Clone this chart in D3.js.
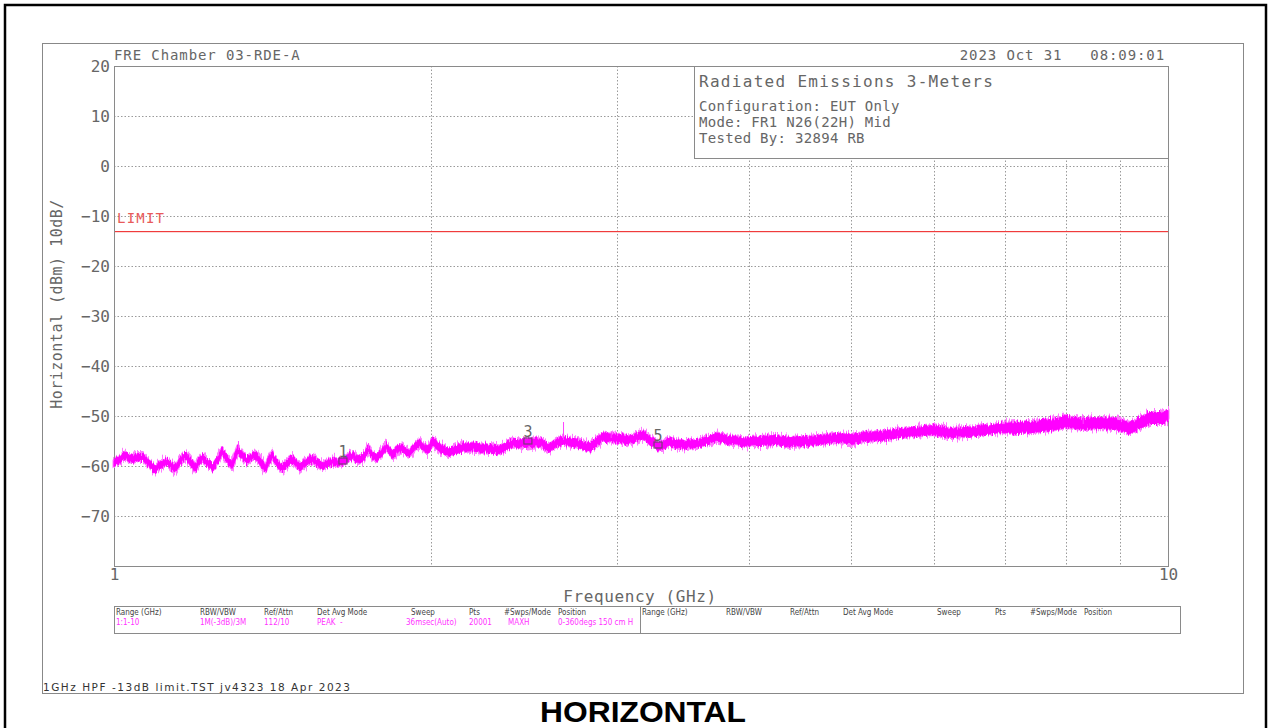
<!DOCTYPE html>
<html>
<head>
<meta charset="utf-8">
<script src="https://cdnjs.cloudflare.com/ajax/libs/d3/7.8.5/d3.min.js"></script>
<style>
  body { margin: 0; background: #fff; }
  svg { display: block; }
  .mono { font-family: "DejaVu Sans Mono", monospace; fill: #666; }
  .small { font-family: "DejaVu Sans Condensed", "DejaVu Sans", sans-serif; font-size: 8px; }
</style>
</head>
<body>
<svg id="chart" width="1272" height="728"></svg>
<script>
// spectrum analyzer plot, radiated emissions 1-10 GHz, horizontal

var yTicks = [20, 10, 0, -10, -20, -30, -40, -50, -60, -70];
var xGrid = [2, 3, 4, 5, 6, 7, 8, 9];
var xTickLabels = [1, 10];
var limitDbm = -13;

// trace (GHz / dBm, centre of the noise band)
var traceFreq = [
  1.000, 1.013, 1.024, 1.033, 1.042, 1.054, 1.065, 1.079, 1.094, 1.108,
  1.123, 1.133, 1.143, 1.155, 1.168, 1.181, 1.194, 1.204, 1.212, 1.228,
  1.241, 1.255, 1.266, 1.280, 1.294, 1.303, 1.311, 1.325, 1.337, 1.349,
  1.361, 1.376, 1.391, 1.403, 1.412, 1.428, 1.443, 1.462, 1.478, 1.491,
  1.501, 1.524, 1.544, 1.561, 1.575, 1.596, 1.613, 1.631, 1.649, 1.667,
  1.685, 1.704, 1.723, 1.742, 1.757, 1.776, 1.796, 1.815, 1.827, 1.839,
  1.855, 1.868, 1.888, 1.909, 1.930, 1.951, 1.972, 1.985, 2.007, 2.029,
  2.052, 2.074, 2.097, 2.120, 2.143, 2.167, 2.190, 2.224, 2.259, 2.288,
  2.324, 2.359, 2.391, 2.427, 2.470, 2.503, 2.536, 2.564, 2.592, 2.632,
  2.667, 2.708, 2.750, 2.786, 2.829, 2.866, 2.910, 2.955, 3.001, 3.041,
  3.088, 3.135, 3.176, 3.225, 3.282, 3.326, 3.370, 3.422, 3.467, 3.520,
  3.598, 3.677, 3.734, 3.842, 3.970, 4.102, 4.239, 4.380, 4.526, 4.677,
  4.833, 4.994, 5.161, 5.333, 5.571, 5.756, 5.987, 6.214, 6.448, 6.707,
  6.930, 7.192, 7.448, 7.730, 8.022, 8.308, 8.622, 8.909, 9.206, 9.410,
  9.615, 9.827, 10.000
];
var traceDbm = [
  -59.4, -58.6, -57.9, -58.4, -58.6, -58.2, -58.2, -59.4, -60.7, -59.7,
  -59.1, -60.0, -60.5, -59.1, -57.9, -59.1, -60.3, -59.1, -58.4, -59.4,
  -60.3, -58.6, -57.2, -58.6, -59.8, -58.2, -56.8, -58.0, -58.9, -58.2,
  -57.7, -59.1, -60.5, -58.9, -57.9, -59.3, -60.5, -59.3, -58.6, -59.6,
  -60.3, -59.1, -58.6, -59.4, -60.0, -59.4, -59.1, -59.3, -59.0, -58.4,
  -57.8, -58.8, -58.4, -56.6, -57.8, -58.4, -57.2, -56.2, -57.2, -57.8,
  -56.8, -56.2, -57.0, -57.4, -56.2, -55.4, -56.4, -56.8, -55.2, -56.0,
  -56.8, -57.2, -57.0, -56.6, -56.2, -56.2, -56.2, -56.4, -56.4, -56.6,
  -56.8, -56.0, -55.4, -55.6, -55.4, -55.2, -55.2, -56.0, -56.4, -55.4,
  -54.8, -55.2, -55.4, -56.0, -56.4, -55.2, -54.2, -54.4, -54.4, -54.6,
  -54.8, -54.2, -53.8, -54.8, -56.0, -55.6, -55.2, -55.6, -55.8, -55.6,
  -55.4, -54.8, -54.2, -54.8, -55.2, -55.0, -54.8, -55.2, -55.0, -54.8,
  -54.4, -54.6, -54.2, -54.0, -53.4, -53.2, -52.8, -53.4, -53.2, -52.8,
  -52.4, -52.4, -52.2, -51.8, -51.2, -51.6, -51.4, -51.6, -52.4, -51.4,
  -50.4, -50.4, -50.0
];
// half thickness of the noise band (dB), up to each frequency
var bandUpTo = [2, 4, 7, 10];
var bandHalf = [0.7, 0.8, 0.9, 1.1];

// isolated spikes above the band
var spikeFreq = [1.311, 1.742, 2.667, 2.960, 8.300];
var spikeTop = [-55.0, -55.4, -51.2, -53.0, -49.8];

var markerNames = ["1", "3", "5"];
var markerFreq = [1.649, 2.470, 3.282];
var markerDbm = [-59.0, -55.0, -55.8];

var infoTitle = "Radiated Emissions 3-Meters";
var infoLines = ["Configuration: EUT Only", "Mode: FR1 N26(22H) Mid", "Tested By: 32894 RB"];

var tableHeaders = ["Range (GHz)", "RBW/VBW", "Ref/Attn", "Det", "Avg Mode", "Sweep", "Pts", "#Swps/Mode", "Position"];
var tableValues = ["1:1-10", "1M(-3dB)/3M", "112/10", "PEAK", "-", "36msec(Auto)", "20001", "MAXH", "0-360degs 150 cm H"];
var headerX = [116, 200, 264, 317, 332, 411, 469, 504, 558];
var valueX = [116, 200, 264, 317, 340, 406, 469, 508, 558];

var svg = d3.select("#chart"),
    plot = {left: 114, top: 66, right: 1168, bottom: 566};

var x = d3.scaleLog().domain([1, 10]).range([plot.left, plot.right]);
var y = d3.scaleLinear().domain([-80, 20]).range([plot.bottom, plot.top]);

// texture filter: jitters the trace band vertically so it reads like a noisy sweep
var defs = svg.append("defs");
[["fuzzOuter", 13], ["fuzzInner", 8]].forEach(function(p) {
  var f = defs.append("filter")
      .attr("id", p[0])
      .attr("x", "-1%").attr("y", "-60%").attr("width", "102%").attr("height", "220%")
      .attr("color-interpolation-filters", "sRGB");
  f.append("feTurbulence")
      .attr("type", "fractalNoise")
      .attr("baseFrequency", "0.8 0.03")
      .attr("numOctaves", 2)
      .attr("seed", p[1])
      .attr("result", "n");
  f.append("feColorMatrix")
      .attr("in", "n")
      .attr("type", "matrix")
      .attr("values", "0 0 0 0 0.5  0 1 0 0 0  0 0 0 0 0  0 0 0 0 1")
      .attr("result", "m");
  f.append("feDisplacementMap")
      .attr("in", "SourceGraphic")
      .attr("in2", "m")
      .attr("scale", p[1])
      .attr("xChannelSelector", "R")
      .attr("yChannelSelector", "G");
});

// outer page border and inner frame
svg.append("rect")
    .attr("x", 5).attr("y", 5).attr("width", 1261).attr("height", 760)
    .attr("fill", "none").attr("stroke", "#000").attr("stroke-width", 2.5);
svg.append("rect")
    .attr("x", 42.5).attr("y", 43.5).attr("width", 1201).attr("height", 650)
    .attr("fill", "none").attr("stroke", "#888").attr("stroke-width", 1);

// grid
var grid = svg.append("g")
    .attr("stroke", "#9a9a9a")
    .attr("stroke-width", 1)
    .attr("stroke-dasharray", "1.5,2");
grid.selectAll("line.h")
  .data(yTicks.slice(1))
  .enter().append("line")
    .attr("class", "h")
    .attr("x1", plot.left).attr("x2", plot.right)
    .attr("y1", function(d) { return Math.round(y(d)) + 0.5; })
    .attr("y2", function(d) { return Math.round(y(d)) + 0.5; });
grid.selectAll("line.v")
  .data(xGrid)
  .enter().append("line")
    .attr("class", "v")
    .attr("y1", plot.top).attr("y2", plot.bottom)
    .attr("x1", function(d) { return Math.round(x(d)) + 0.5; })
    .attr("x2", function(d) { return Math.round(x(d)) + 0.5; });

// plot frame
svg.append("rect")
    .attr("x", plot.left + 0.5).attr("y", plot.top + 0.5)
    .attr("width", plot.right - plot.left).attr("height", plot.bottom - plot.top)
    .attr("fill", "none").attr("stroke", "#8a8a8a");

// axes (labels only)
var yAxis = svg.append("g")
    .attr("transform", "translate(" + plot.left + ",0)")
    .call(d3.axisLeft(y).tickValues(yTicks).tickSize(0).tickPadding(4).tickFormat(d3.format("d")));
yAxis.select(".domain").remove();
yAxis.selectAll("text")
    .attr("class", "mono")
    .attr("font-size", 16)
    .attr("dy", "0.36em");

var xAxis = svg.append("g")
    .attr("transform", "translate(0," + plot.bottom + ")")
    .call(d3.axisBottom(x).tickValues(xTickLabels).tickSize(0).tickPadding(3).tickFormat(d3.format("d")));
xAxis.select(".domain").remove();
xAxis.selectAll("text")
    .attr("class", "mono")
    .attr("font-size", 16);

svg.append("text")
    .attr("class", "mono")
    .attr("x", 640).attr("y", 602)
    .attr("text-anchor", "middle")
    .attr("font-size", 16)
    .attr("letter-spacing", 0.6)
    .text("Frequency (GHz)");

svg.append("text")
    .attr("class", "mono")
    .attr("transform", "translate(62,304) rotate(-90)")
    .attr("text-anchor", "middle")
    .attr("font-size", 15)
    .attr("letter-spacing", 0.5)
    .text("Horizontal (dBm) 10dB/");

// header texts
svg.append("text")
    .attr("class", "mono")
    .attr("x", 114).attr("y", 60)
    .attr("font-size", 14)
    .attr("letter-spacing", 0.9)
    .text("FRE Chamber 03-RDE-A");
svg.append("text")
    .attr("class", "mono")
    .attr("x", 1165).attr("y", 60)
    .attr("text-anchor", "end")
    .attr("font-size", 14)
    .attr("letter-spacing", 0.9)
    .attr("xml:space", "preserve")
    .text("2023 Oct 31   08:09:01");

// limit line (thin filled strip)
svg.append("rect")
    .attr("x", plot.left + 1).attr("width", plot.right - plot.left - 1)
    .attr("y", Math.round(y(limitDbm))).attr("height", 1.2)
    .attr("fill", "#f03c3c");
svg.append("text")
    .attr("class", "mono")
    .attr("x", 117).attr("y", 223)
    .attr("font-size", 14)
    .attr("letter-spacing", 1.2)
    .style("fill", "#e85a5a")
    .text("LIMIT");

// trace
var trace = traceFreq.map(function(f, i) {
  var k = bandUpTo.findIndex(function(u) { return f <= u; });
  return {f: f, v: traceDbm[i], w: bandHalf[k]};
});

var band = d3.area()
    .x(function(d) { return x(d.f); })
    .y0(function(d) { return y(d.v - d.w); })
    .y1(function(d) { return y(d.v + d.w); });

svg.append("path")
    .datum(trace)
    .attr("d", band)
    .attr("fill", "#ff7aff")
    .attr("stroke", "#ff7aff")
    .attr("stroke-width", 3)
    .attr("stroke-linejoin", "round")
    .attr("filter", "url(#fuzzOuter)");

svg.append("path")
    .datum(trace)
    .attr("d", band)
    .attr("fill", "#ff00ff")
    .attr("stroke", "#ff00ff")
    .attr("stroke-width", 1)
    .attr("stroke-linejoin", "round")
    .attr("filter", "url(#fuzzInner)");

svg.append("g")
    .attr("stroke", "#ff44ff")
    .attr("stroke-width", 1)
  .selectAll("line")
  .data(spikeFreq)
  .enter().append("line")
    .attr("x1", function(d) { return x(d) + 0.5; })
    .attr("x2", function(d) { return x(d) + 0.5; })
    .attr("y1", function(d, i) { return y(spikeTop[i]); })
    .attr("y2", function(d, i) { return y(traceDbm[d3.bisectLeft(traceFreq, d)]); });

// markers
var markers = svg.append("g")
  .selectAll("g")
  .data(markerNames)
  .enter().append("g")
    .attr("transform", function(d, i) {
      return "translate(" + x(markerFreq[i]) + "," + y(markerDbm[i]) + ")";
    });
markers.append("rect")
    .attr("x", -4).attr("y", -3).attr("width", 8).attr("height", 6)
    .attr("fill", "none").attr("stroke", "#7a3a7a").attr("stroke-width", 1.2);
markers.append("text")
    .attr("class", "mono")
    .attr("y", -4)
    .attr("text-anchor", "middle")
    .attr("font-size", 15)
    .text(function(d) { return d; });

// info box
svg.append("rect")
    .attr("x", 694.5).attr("y", plot.top + 0.5)
    .attr("width", plot.right - 694).attr("height", 92)
    .attr("fill", "#fff").attr("stroke", "#8a8a8a");
svg.append("text")
    .attr("class", "mono")
    .attr("x", 699).attr("y", 87)
    .attr("font-size", 16)
    .attr("letter-spacing", 1.3)
    .text(infoTitle);
svg.append("g")
  .selectAll("text")
  .data(infoLines)
  .enter().append("text")
    .attr("class", "mono")
    .attr("x", 699)
    .attr("y", function(d, i) { return 111 + i * 16; })
    .attr("font-size", 14)
    .attr("letter-spacing", 0.3)
    .text(function(d) { return d; });

// settings table
svg.append("rect")
    .attr("x", 114.5).attr("y", 606.5).attr("width", 1066).attr("height", 27)
    .attr("fill", "none").attr("stroke", "#8a8a8a");
svg.append("line")
    .attr("x1", 640.5).attr("x2", 640.5).attr("y1", 606).attr("y2", 634)
    .attr("stroke", "#8a8a8a");

[0, 526].forEach(function(off) {
  svg.append("g")
    .selectAll("text")
    .data(tableHeaders)
    .enter().append("text")
      .attr("class", "small")
      .attr("x", function(d, i) { return headerX[i] + off; })
      .attr("y", 615)
      .attr("fill", "#444")
      .text(function(d) { return d; });
});
svg.append("g")
  .selectAll("text")
  .data(tableValues)
  .enter().append("text")
    .attr("class", "small")
    .attr("x", function(d, i) { return valueX[i]; })
    .attr("y", 625)
    .attr("fill", "#ff33ff")
    .text(function(d) { return d; });

// footer
svg.append("text")
    .attr("x", 43).attr("y", 691)
    .attr("font-family", "DejaVu Sans, sans-serif")
    .attr("font-size", 10.5)
    .attr("fill", "#333")
    .attr("textLength", 307)
    .text("1GHz HPF -13dB limit.TST jv4323 18 Apr 2023");

svg.append("text")
    .attr("x", 643).attr("y", 722)
    .attr("text-anchor", "middle")
    .attr("font-family", "Liberation Sans, Arial, sans-serif")
    .attr("font-weight", "bold")
    .attr("font-size", 30)
    .attr("fill", "#000")
    .attr("textLength", 206)
    .attr("lengthAdjust", "spacingAndGlyphs")
    .text("HORIZONTAL");
</script>
</body>
</html>
